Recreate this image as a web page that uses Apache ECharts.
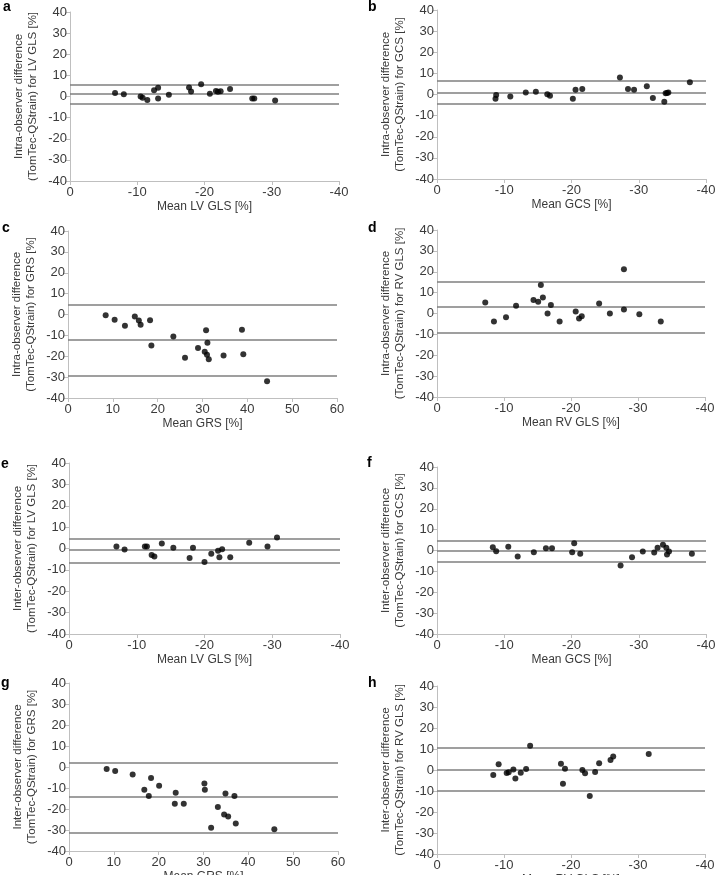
<!DOCTYPE html>
<html><head><meta charset="utf-8">
<script src="https://cdn.jsdelivr.net/npm/echarts@6/dist/echarts.min.js"></script>
<style>html,body{margin:0;padding:0;background:#fff}#c{width:715px;height:875px}</style>
</head><body><div id="c"></div>
<script>
// ---- data ----
const aMean = [-6.7,-8.0,-10.5,-10.8,-11.5,-12.5,-13.1,-13.1,-14.7,-17.7,-18.0,-19.5,-20.8,-21.7,-22.0,-22.4,-23.8,-27.1,-27.4,-30.5];
const aDiff = [1.6,1.1,0.0,-0.6,-1.6,3.0,4.2,-0.9,0.8,4.3,2.4,5.8,1.3,2.6,2.2,2.5,3.5,-0.9,-0.9,-1.9];
const aLimits = [5.7, 1.3, -3.2];

const bMean = [-8.7,-8.8,-10.9,-13.2,-14.7,-16.4,-16.8,-20.2,-20.6,-21.6,-27.2,-28.4,-29.3,-31.2,-32.1,-33.8,-34.0,-34.2,-34.4,-37.6];
const bDiff = [-2.0,-0.2,-1.0,1.0,1.3,0.1,-0.6,-2.0,2.3,2.6,8.1,2.6,2.3,3.9,-1.7,-3.4,0.6,0.7,0.9,5.8];
const bLimits = [6.4, 1.0, -4.5];

const cMean = [8.4,10.4,12.7,14.9,15.8,16.2,18.3,18.6,23.5,26.1,29.0,30.5,30.8,31.0,31.1,31.4,34.7,38.8,39.1,44.4];
const cDiff = [-0.3,-2.5,-5.4,-1.0,-2.9,-4.9,-2.7,-14.8,-10.5,-20.7,-16.1,-17.8,-7.6,-19.3,-13.5,-21.4,-19.6,-7.3,-19.0,-32.0];
const cLimits = [4.9, -12.0, -29.3];

const dMean = [-7.2,-8.5,-10.3,-11.8,-14.4,-15.1,-15.5,-15.8,-16.5,-17.0,-18.3,-20.7,-21.2,-21.6,-24.2,-25.8,-27.9,-27.9,-30.2,-33.4];
const dDiff = [5.3,-3.8,-1.8,3.7,6.5,5.6,13.6,7.7,0.0,4.1,-3.8,1.0,-2.4,-1.3,4.8,0.0,21.2,1.9,-0.3,-3.8];
const dLimits = [15.0, 3.0, -9.4];

const eMean = [-7.0,-8.2,-11.2,-11.5,-12.2,-12.6,-13.7,-15.4,-17.8,-18.3,-20.0,-21.0,-22.0,-22.6,-22.2,-23.8,-26.6,-29.3,-30.7];
const eDiff = [0.9,-0.5,0.9,0.9,-3.0,-3.8,2.3,0.3,-4.5,0.3,-6.3,-2.5,-1.1,-0.3,-4.1,-4.1,2.7,0.9,5.2];
const eLimits = [4.7, -0.8, -6.6];

const fMean = [-8.3,-8.8,-10.6,-12.0,-14.4,-16.2,-17.1,-20.1,-20.4,-21.3,-27.3,-29.0,-30.6,-32.3,-32.8,-33.6,-34.1,-34.2,-34.5,-37.9];
const fDiff = [1.6,-0.3,1.8,-2.9,-0.8,1.1,1.1,-0.8,3.5,-1.6,-7.2,-3.2,-0.5,-1.0,1.3,2.7,1.3,-1.9,-0.5,-1.6];
const fLimits = [4.5, -0.3, -5.3];

const gMean = [8.4,10.3,14.2,16.8,17.8,18.3,20.1,23.6,23.8,25.6,30.2,30.3,31.7,33.2,34.6,34.9,35.5,36.9,37.2,45.8];
const gDiff = [-0.9,-1.9,-3.6,-10.8,-13.8,-5.2,-8.9,-17.5,-12.3,-17.5,-7.9,-10.8,-28.9,-19.0,-22.6,-12.6,-23.6,-13.8,-26.9,-29.7];
const gLimits = [2.1, -14.4, -31.5];

const hMean = [-8.4,-9.2,-10.4,-10.7,-11.4,-11.7,-12.5,-13.3,-13.9,-18.5,-18.8,-19.1,-21.7,-22.1,-22.8,-23.6,-24.2,-25.9,-26.3,-31.6];
const hDiff = [-2.4,2.7,-1.4,-1.1,0.2,-4.1,-1.3,0.5,11.6,3.0,-6.5,0.6,0.0,-1.6,-12.4,-1.0,3.2,4.8,6.4,7.6];
const hLimits = [10.5, 0.1, -9.9];

const strainRange = [-40, 0];
const grsRange = [0, 60];
const diffRange = [-40, 40];
const tickStep = 10;

const letters = ['a','b','c','d','e','f','g','h'];
const xNames = ['Mean LV GLS [%]','Mean GCS [%]','Mean GRS [%]','Mean RV GLS [%]','Mean LV GLS [%]','Mean GCS [%]','Mean GRS [%]','Mean RV GLS [%]'];
const yNames = [
  'Intra-observer difference\n(TomTec-QStrain) for LV GLS [%]',
  'Intra-observer difference\n(TomTec-QStrain) for GCS [%]',
  'Intra-observer difference\n(TomTec-QStrain) for GRS [%]',
  'Intra-observer difference\n(TomTec-QStrain) for RV GLS [%]',
  'Inter-observer difference\n(TomTec-QStrain) for LV GLS [%]',
  'Inter-observer difference\n(TomTec-QStrain) for GCS [%]',
  'Inter-observer difference\n(TomTec-QStrain) for GRS [%]',
  'Inter-observer difference\n(TomTec-QStrain) for RV GLS [%]'
];
const means = [aMean,bMean,cMean,dMean,eMean,fMean,gMean,hMean];
const diffs = [aDiff,bDiff,cDiff,dDiff,eDiff,fDiff,gDiff,hDiff];
const limits = [aLimits,bLimits,cLimits,dLimits,eLimits,fLimits,gLimits,hLimits];
const isGRS = [false,false,true,false,false,false,true,false];

// ---- layout (pixels) ----
const boxes = [
  {l:70, t:12, r:339, b:181, lx:3, ly:11},
  {l:437, t:10, r:706, b:179, lx:368, ly:11},
  {l:68, t:231, r:337, b:398, lx:2, ly:232},
  {l:437, t:230, r:705, b:397, lx:368, ly:232},
  {l:69, t:463, r:340, b:634, lx:1, ly:468},
  {l:437, t:467, r:706, b:634, lx:367, ly:467},
  {l:69, t:683, r:338, b:851, lx:1, ly:687},
  {l:437, t:686, r:705, b:854, lx:368, ly:687}
];

const FONT = '"Liberation Sans", Arial, sans-serif';
const TXT = '#3a3a3a';
const AX = '#bfbfbf';

const grid = [], xAxis = [], yAxis = [], series = [], graphic = [];
for (let i = 0; i < 8; i++) {
  const bx = boxes[i];
  grid.push({left: bx.l, top: bx.t, width: bx.r - bx.l, height: bx.b - bx.t, containLabel: false, outerBoundsMode: 'none'});
  const rng = isGRS[i] ? grsRange : strainRange;
  xAxis.push({
    gridIndex: i, type: 'value', min: rng[0], max: rng[1], interval: tickStep, inverse: !isGRS[i],
    axisLine: {onZero: false, lineStyle: {color: AX, width: 1}},
    axisTick: {show: true, length: 4, lineStyle: {color: AX}},
    splitLine: {show: false},
    axisLabel: {color: TXT, fontSize: 13, fontFamily: FONT, margin: 5},
    name: xNames[i], nameLocation: 'middle', nameGap: 20, nameMoveOverlap: false,
    nameTextStyle: {color: TXT, fontSize: 12, fontFamily: FONT}
  });
  yAxis.push({
    gridIndex: i, type: 'value', min: diffRange[0], max: diffRange[1], interval: tickStep,
    axisLine: {show: true, onZero: false, lineStyle: {color: AX, width: 1}},
    axisTick: {show: true, length: 4, lineStyle: {color: AX}},
    splitLine: {show: false},
    axisLabel: {color: TXT, fontSize: 13, fontFamily: FONT, margin: 3},
    name: yNames[i], nameLocation: 'middle', nameGap: 30, nameMoveOverlap: false,
    nameTextStyle: {color: TXT, fontSize: 11.5, fontFamily: FONT, lineHeight: 14}
  });
  series.push({
    type: 'scatter', xAxisIndex: i, yAxisIndex: i, z: 5,
    data: means[i].map((m, k) => [m, diffs[i][k]]),
    symbol: 'circle', symbolSize: 6,
    itemStyle: {color: '#000'},
    markLine: {
      silent: true, symbol: ['none', 'none'], label: {show: false},
      lineStyle: {color: '#7f7f7f', width: 1.5, type: 'solid'},
      emphasis: {disabled: true},
      data: limits[i].map(v => ({yAxis: v}))
    }
  });
  graphic.push({
    type: 'text', left: bx.lx, top: bx.ly - 11,
    style: {text: letters[i], font: 'bold 14px ' + FONT, fill: '#000'}
  });
}

const chart = echarts.init(document.getElementById('c'), null, {renderer: 'canvas'});
chart.setOption({animation: false, backgroundColor: '#fff', grid, xAxis, yAxis, series, graphic});
</script>
</body></html>
